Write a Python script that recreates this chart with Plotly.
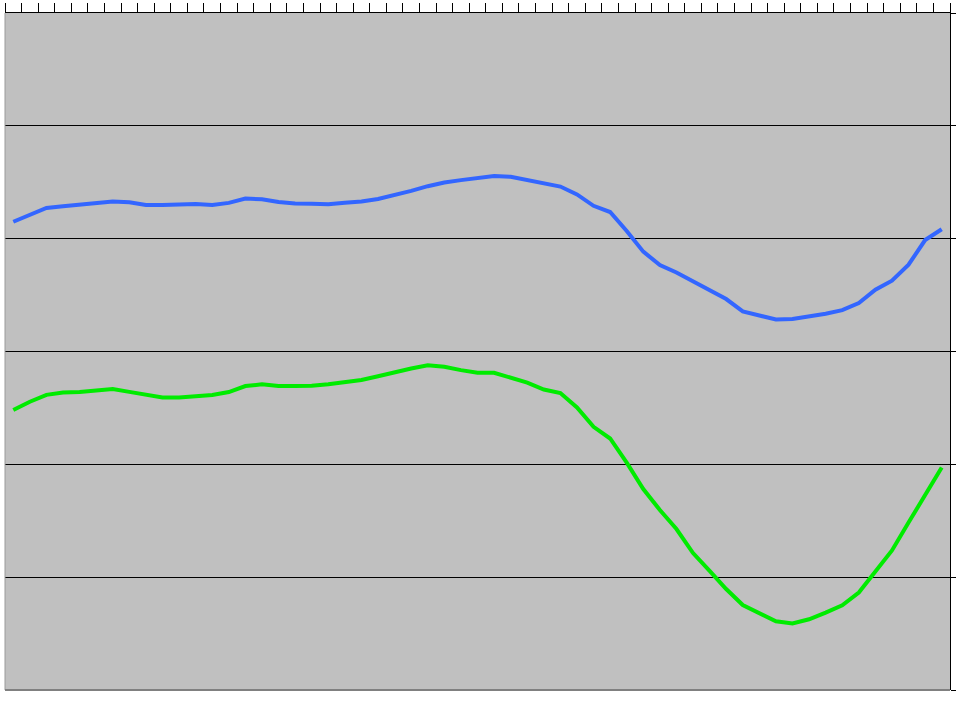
import plotly.graph_objects as go

# category index (57 evenly spaced points)
points = list(range(57))

blue_values = [4.150, 4.213, 4.272, 4.288, 4.300, 4.320, 4.330, 4.322, 4.299, 4.299,
               4.302, 4.307, 4.299, 4.317, 4.355, 4.350, 4.325, 4.312, 4.309, 4.306,
               4.318, 4.330, 4.352, 4.384, 4.423, 4.465, 4.497, 4.519, 4.538, 4.556,
               4.548, 4.517, 4.489, 4.462, 4.392, 4.291, 4.236, 4.068, 3.885, 3.767,
               3.700, 3.620, 3.545, 3.465, 3.355, 3.315, 3.284, 3.289, 3.308, 3.334,
               3.366, 3.430, 3.547, 3.628, 3.769, 3.988, 4.083]

green_values = [2.482, 2.555, 2.616, 2.636, 2.642, 2.654, 2.668, 2.642, 2.614, 2.593,
                2.593, 2.605, 2.615, 2.641, 2.694, 2.709, 2.694, 2.694, 2.696, 2.710,
                2.725, 2.747, 2.780, 2.817, 2.849, 2.878, 2.864, 2.835, 2.812, 2.812,
                2.771, 2.724, 2.663, 2.632, 2.504, 2.332, 2.229, 2.015, 1.781, 1.595,
                1.427, 1.214, 1.055, 0.895, 0.753, 0.682, 0.609, 0.589, 0.627, 0.686,
                0.751, 0.864, 1.046, 1.237, 1.484, 1.735, 1.972]

fig = go.Figure()
fig.add_trace(go.Scatter(x=points, y=blue_values, mode="lines",
                         line=dict(color="rgb(51,102,255)", width=4), showlegend=False))
fig.add_trace(go.Scatter(x=points, y=green_values, mode="lines",
                         line=dict(color="rgb(0,235,0)", width=4), showlegend=False))

fig.update_layout(
    width=960, height=720,
    margin=dict(l=5, r=10, t=13, b=30, autoexpand=False),
    paper_bgcolor="white",
    plot_bgcolor="#C0C0C0",
    showlegend=False,
    xaxis=dict(
        side="top", range=[-0.5, 56.5], tick0=-0.5, dtick=1,
        ticks="outside", ticklen=9, tickcolor="black", tickwidth=1,
        showticklabels=False, showgrid=False, zeroline=False,
        showline=True, linecolor="black", linewidth=1, automargin=False,
    ),
    yaxis=dict(
        side="right", range=[0, 6], dtick=1,
        ticks="outside", ticklen=5, tickcolor="black",
        showticklabels=False, showgrid=True, gridcolor="black", gridwidth=1,
        zeroline=False, showline=True, linecolor="black", linewidth=1,
        automargin=False,
    ),
    shapes=[
        dict(type="line", xref="paper", yref="paper", x0=0, x1=0, y0=0, y1=1,
             line=dict(color="#9a9a9a", width=1)),
        dict(type="line", xref="paper", yref="paper", x0=0, x1=1, y0=0, y1=0,
             line=dict(color="#808080", width=2)),
    ],
)

fig.write_html("out.html",
               config={"displayModeBar": False},
               post_script="document.body.style.margin='0px';document.body.style.overflow='hidden';")
